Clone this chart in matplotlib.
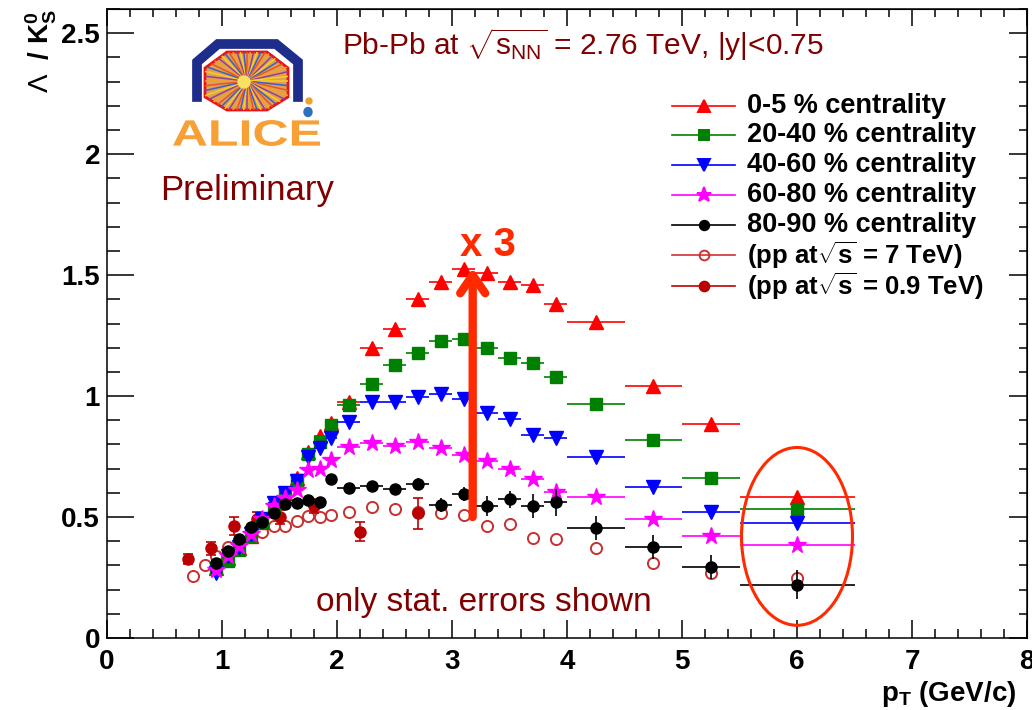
import numpy as np
import matplotlib
matplotlib.use("Agg")
import matplotlib.pyplot as plt
from matplotlib.patches import Ellipse, Polygon, PathPatch, Circle
from matplotlib.textpath import TextPath
from matplotlib.font_manager import FontProperties
from matplotlib.transforms import Affine2D
from matplotlib.ticker import MultipleLocator, FormatStrFormatter

plt.rcParams['font.family'] = ['Liberation Sans', 'DejaVu Sans']
plt.rcParams['mathtext.fontset'] = 'custom'
plt.rcParams['mathtext.rm'] = 'Liberation Sans'
plt.rcParams['mathtext.it'] = 'Liberation Sans:italic'
plt.rcParams['mathtext.bf'] = 'Liberation Sans:bold'

# --- data ---
pt = [0.95, 1.05, 1.15, 1.25, 1.35, 1.45, 1.55, 1.65, 1.75, 1.85, 1.95,
      2.1, 2.3, 2.5, 2.7, 2.9, 3.1, 3.3, 3.5, 3.7, 3.9,
      4.25, 4.75, 5.25, 6.0]
pt_err = [0.05] * 11 + [0.1] * 10 + [0.25] * 3 + [0.5]

c0_5 = [0.29, 0.33, 0.37, 0.42, 0.48, 0.54, 0.60, 0.66, 0.77, 0.835, 0.89,
        0.975, 1.20, 1.277, 1.40, 1.47, 1.525, 1.51, 1.47, 1.46, 1.38,
        1.305, 1.04, 0.885, 0.583]
c20_40 = [0.29, 0.32, 0.364, 0.42, 0.48, 0.537, 0.60, 0.655, 0.76, 0.81, 0.88,
          0.963, 1.05, 1.13, 1.18, 1.228, 1.235, 1.20, 1.157, 1.136, 1.08,
          0.967, 0.82, 0.66, 0.533]
c40_60 = [0.27, 0.34, 0.375, 0.43, 0.49, 0.557, 0.60, 0.65, 0.75, 0.785, 0.826,
          0.893, 0.975, 0.975, 0.996, 1.008, 0.988, 0.93, 0.905, 0.84, 0.826,
          0.748, 0.625, 0.52, 0.475]
c60_80 = [0.28, 0.34, 0.38, 0.43, 0.49, 0.545, 0.58, 0.61, 0.695, 0.70, 0.735,
          0.79, 0.805, 0.795, 0.81, 0.785, 0.757, 0.73, 0.70, 0.657, 0.605,
          0.583, 0.49, 0.42, 0.384]
c80_90 = [0.31, 0.36, 0.41, 0.458, 0.48, 0.517, 0.553, 0.56, 0.57, 0.562, 0.657,
          0.62, 0.628, 0.615, 0.636, 0.55, 0.595, 0.546, 0.573, 0.546, 0.561,
          0.455, 0.377, 0.293, 0.22]
c80_90_err = [0.01] * 11 + [0.015, 0.015, 0.02, 0.025, 0.03, 0.03, 0.04, 0.035, 0.05, 0.055] + \
             [0.05, 0.05, 0.05, 0.06]

pp7_pt = [0.75, 0.85, 0.95, 1.05, 1.15, 1.25, 1.35, 1.45, 1.55, 1.65, 1.75, 1.85, 1.95,
          2.1, 2.3, 2.5, 2.7, 2.9, 3.1, 3.3, 3.5, 3.7, 3.9, 4.25, 4.75, 5.25, 6.0]
pp7 = [0.256, 0.30, 0.34, 0.375, 0.40, 0.42, 0.44, 0.462, 0.462, 0.483, 0.504, 0.50, 0.508,
       0.52, 0.54, 0.533, 0.52, 0.517, 0.508, 0.463, 0.47, 0.413, 0.409, 0.37, 0.31, 0.27, 0.25]

pp09_pt = [0.7, 0.9, 1.1, 1.3, 1.5, 1.8, 2.2, 2.7]
pp09 = [0.327, 0.37, 0.464, 0.49, 0.50, 0.546, 0.44, 0.515]
pp09_err = [0.02, 0.025, 0.038, 0.03, 0.03, 0.03, 0.04, 0.065]

labels = ["0-5 % centrality", "20-40 % centrality", "40-60 % centrality",
          "60-80 % centrality", "80-90 % centrality",
          r"(pp at$\sqrt{\mathbf{s}}$ = 7 TeV)", r"(pp at$\sqrt{\mathbf{s}}$ = 0.9 TeV)"]

dark = '#800000'
arrow_col = '#ff2a00'

fig = plt.figure(figsize=(10.32, 7.10), dpi=100)
ax = fig.add_axes([107 / 1032, 1 - 638 / 710, 920 / 1032, 629 / 710])

# pp reference points
ax.plot(pp7_pt, pp7, 'o', ms=8, mfc='none', mec='#c83030', mew=1.4, zorder=2)
ax.errorbar(pp09_pt, pp09, yerr=pp09_err, fmt='o', ms=8, color='#bb0000',
            elinewidth=1.2, capsize=3.5, capthick=1.2, zorder=3)

series = [
    (c0_5, '#ff0000', '^', 9.5),
    (c20_40, '#008000', 's', 8),
    (c40_60, '#0000ff', 'v', 9.5),
    (c60_80, '#ff00ff', '*', 13),
    (c80_90, 'black', 'o', 8),
]
for i, (vals, col, mk, ms) in enumerate(series):
    yerr = c80_90_err if i == 4 else [0.008] * len(vals)
    ax.errorbar(pt, vals, xerr=pt_err, yerr=yerr, fmt=mk, color=col, ms=ms,
                elinewidth=1.2, capsize=0, zorder=4 + i)

ax.set_xlim(0, 8)
ax.set_ylim(0, 2.6)
ax.xaxis.set_major_locator(MultipleLocator(1))
ax.xaxis.set_minor_locator(MultipleLocator(0.2))
ax.yaxis.set_major_locator(MultipleLocator(0.5))
ax.yaxis.set_minor_locator(MultipleLocator(0.1))
ax.yaxis.set_major_formatter(FormatStrFormatter('%g'))
ax.tick_params(axis='x', which='major', direction='in', length=13, width=1.1,
               labelsize=20, pad=8, top=False)
ax.tick_params(axis='x', which='minor', direction='in', length=6.5, width=1.1, top=False)
ax.tick_params(axis='y', which='major', direction='in', length=19.5, width=1.1,
               labelsize=20, pad=5, right=False)
ax.tick_params(axis='y', which='minor', direction='in', length=9.5, width=1.1, right=False)
for lab in ax.get_xticklabels() + ax.get_yticklabels():
    lab.set_fontweight('bold')
for s in ax.spines.values():
    s.set_linewidth(1.1)

# mirrored ticks on top / right
sec_x = ax.secondary_xaxis('top')
sec_x.xaxis.set_major_locator(MultipleLocator(1))
sec_x.xaxis.set_minor_locator(MultipleLocator(0.2))
sec_x.tick_params(which='major', direction='in', length=12, width=1.1, labeltop=False)
sec_x.tick_params(which='minor', direction='in', length=5.5, width=1.1)
sec_y = ax.secondary_yaxis('right')
sec_y.yaxis.set_major_locator(MultipleLocator(0.5))
sec_y.yaxis.set_minor_locator(MultipleLocator(0.1))
sec_y.tick_params(which='major', direction='in', length=13, width=1.1, labelright=False)
sec_y.tick_params(which='minor', direction='in', length=5.5, width=1.1)

ax.set_xlabel(r'$\mathbf{p_{T}}$ (GeV/c)', loc='right', fontsize=20,
              fontweight='bold', labelpad=0)
ax.xaxis.set_label_coords(0.988, -0.065)
ax.set_ylabel(r'$\Lambda$  / $\mathbf{K^{0}_{S}}$', loc='top', fontsize=20,
              fontweight='bold', labelpad=2)

# legend, one row every 30 px
leg_rows = [106, 135, 165, 195, 225, 255, 286]
leg_sizes = [19.5] * 5 + [18.5, 18.5]
leg_handles = [(col, mk, ms * 0.85, col) for _, col, mk, ms in series]
leg_handles += [('#d03030', 'o', 7, 'none'), ('#bb0000', 'o', 7, '#bb0000')]
for row, (col, mk, ms, fc), lab, fs in zip(leg_rows, leg_handles, labels, leg_sizes):
    yf = (638 - row) / 629
    ax.plot([0.614, 0.6826], [yf, yf], color=col, lw=1.2, transform=ax.transAxes,
            clip_on=False)
    ax.plot([0.6489], [yf], marker=mk, ms=ms, color=col, mfc=fc, mew=1.4,
            transform=ax.transAxes, clip_on=False)
    ax.text(0.6957, yf, lab, transform=ax.transAxes, ha='left', va='center',
            fontsize=fs, fontweight='bold')

# annotations
ax.text(0.517, 0.943, r'Pb-Pb at $\sqrt{\mathrm{s}_{\mathrm{NN}}}$ = 2.76 TeV, |y|<0.75',
        transform=ax.transAxes, ha='center', va='center', fontsize=21.5, color=dark)
ax.text(0.152, 0.712, 'Preliminary', transform=ax.transAxes, ha='center',
        va='center', fontsize=25, color=dark)
ax.text(0.41, 0.056, 'only stat. errors shown', transform=ax.transAxes,
        ha='center', va='center', fontsize=24, color=dark)
ax.text(0.414, 0.625, 'x 3', transform=ax.transAxes, ha='center', va='center',
        fontsize=29, fontweight='bold', color=arrow_col)
ax.annotate('', xy=(3.18, 1.53), xytext=(3.18, 0.5),
            arrowprops=dict(arrowstyle='->,head_length=1.3,head_width=0.9',
                            color=arrow_col, lw=6, shrinkA=0, shrinkB=0),
            zorder=10)
ax.add_patch(Ellipse((6.0, 0.42), 0.965, 0.735, fill=False, ec=arrow_col,
                     lw=2.2, zorder=10))

# ALICE logo (drawn in pixel coordinates on an overlay)
ov = fig.add_axes([0, 0, 1, 1])
ov.set_xlim(0, 1032)
ov.set_ylim(710, 0)
ov.axis('off')
ov.patch.set_alpha(0)
octo = [(227, 52), (267, 52), (288, 68), (288, 97), (267, 110), (227, 110),
        (205, 97), (205, 68)]
oct_patch = Polygon(octo, closed=True, fc='#e0a050', ec='#ee1111', lw=2, zorder=2)
ov.add_patch(oct_patch)
ray_cols = ['#f5d020', '#3a5fcd', '#e8542a', '#f0a030', '#9040a0']
for k, a in enumerate(np.linspace(0, 2 * np.pi, 56, endpoint=False)):
    ln, = ov.plot([247, 247 + 60 * np.cos(a)], [81, 81 + 60 * np.sin(a)],
                  color=ray_cols[k % len(ray_cols)], lw=1.1, zorder=3)
    ln.set_clip_path(oct_patch)
ov.add_patch(Circle((244, 82), 6, color='#f8e060', zorder=4))
ov.plot([197, 197, 218, 276, 298, 298], [97, 62, 44, 44, 62, 97], color='#1e2d8c',
        lw=7, solid_joinstyle='miter', zorder=2)
ov.add_patch(Circle((309, 101), 3, color='#f0a030', zorder=4))
ov.add_patch(Ellipse((308, 112), 8, 9, color='#3070c0', zorder=4))
tp = TextPath((0, 0), 'ALICE', size=1, prop=FontProperties(family='Liberation Sans', weight='bold'))
ext = tp.get_extents()
sx = 147 / ext.width
sy = 26 / ext.height
tr = Affine2D().translate(-ext.x0, -ext.y0).scale(sx, -sy).translate(173, 146)
ov.add_patch(PathPatch(tr.transform_path(tp), fc='#f7a035', ec='none', zorder=4))

fig.savefig('out.png', dpi=100)
